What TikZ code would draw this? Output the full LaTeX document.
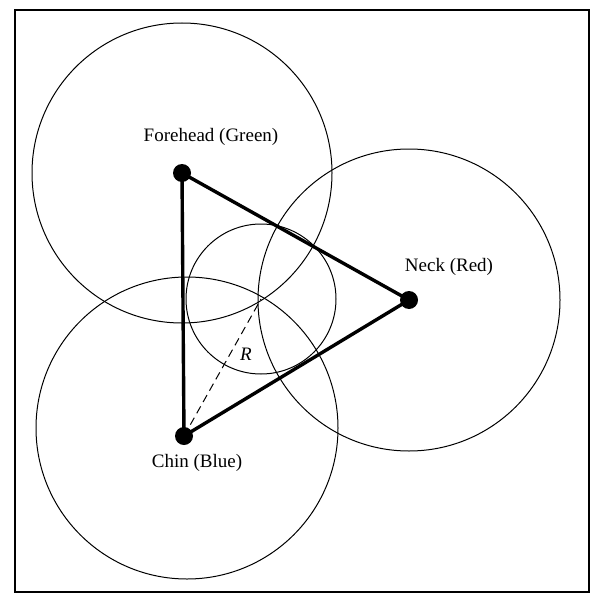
\documentclass[tikz,border=0pt]{standalone}
\usepackage{fontspec}
\setmainfont{Liberation Serif}
\begin{document}
\begin{tikzpicture}[x=1pt,y=-1pt,
  ring/.style={draw=black,line width=1pt},
  edge/.style={draw=black,line width=3.4pt},
  vdot/.style={circle,fill=black,inner sep=0pt,minimum size=18pt},
  lbl/.style={font=\fontsize{19}{22}\selectfont,inner sep=0pt}]
\useasboundingbox (0,0) rectangle (593,602);
\draw[line width=1.8pt] (15,10) rectangle (589,592);
% vertices
\coordinate (F) at (182,173);
\coordinate (N) at (409,300);
\coordinate (C) at (184,436);
\coordinate (P) at (261,299);
% circles
\draw[ring] (F) circle (150);
\draw[ring] (N) circle (151);
\draw[ring] (187,428) circle (151);
\draw[ring] (P) circle (75);
% triangle
\draw[edge] (F) -- (N) -- (C) -- cycle;
\draw[line width=1pt,dash pattern=on 8pt off 5pt] (C) -- (P);
\node[vdot] (f) at (F) {};
\node[vdot] (n) at (N) {};
\node[vdot] (c) at (C) {};
% labels
\node[lbl] (lf) at (211,137) {Forehead (Green)};
\node[lbl] (ln) at (449,267) {Neck (Red)};
\node[lbl] (lc) at (197,463) {Chin (Blue)};
\node[lbl] (lr) at (246,354) {\itshape R};
\end{tikzpicture}
\end{document}
